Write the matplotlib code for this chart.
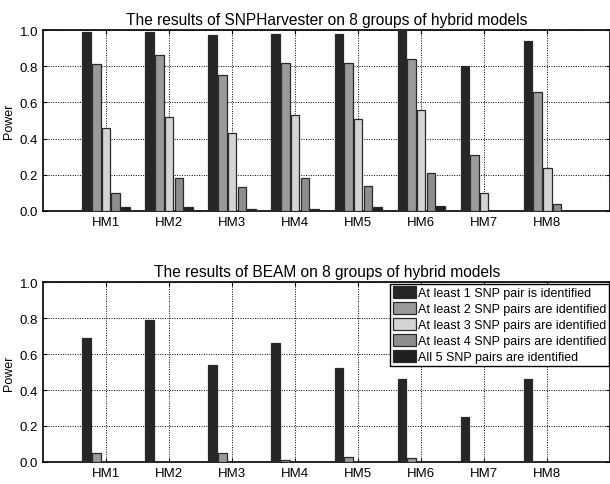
import numpy as np
import matplotlib
matplotlib.use("Agg")
import matplotlib.pyplot as plt

plt.rcParams.update({
    "font.family": ["Liberation Sans", "DejaVu Sans"],
    "font.size": 9,
})

# ── Data ─────────────────────────────────────────────────────────
groups = ["HM1", "HM2", "HM3", "HM4", "HM5", "HM6", "HM7", "HM8"]
series_labels = [
    "At least 1 SNP pair is identified",
    "At least 2 SNP pairs are identified",
    "At least 3 SNP pairs are identified",
    "At least 4 SNP pairs are identified",
    "All 5 SNP pairs are identified",
]

harv_1 = [0.99, 0.99, 0.97, 0.98, 0.98, 1.00, 0.80, 0.94]
harv_2 = [0.81, 0.86, 0.75, 0.82, 0.82, 0.84, 0.31, 0.66]
harv_3 = [0.46, 0.52, 0.43, 0.53, 0.51, 0.56, 0.10, 0.24]
harv_4 = [0.10, 0.18, 0.13, 0.18, 0.14, 0.21, 0.00, 0.04]
harv_5 = [0.02, 0.02, 0.01, 0.01, 0.02, 0.03, 0.00, 0.00]

beam_1 = [0.69, 0.79, 0.54, 0.66, 0.52, 0.46, 0.25, 0.46]
beam_2 = [0.05, 0.00, 0.05, 0.01, 0.03, 0.02, 0.00, 0.00]
beam_3 = [0.00, 0.00, 0.00, 0.00, 0.00, 0.00, 0.00, 0.00]
beam_4 = [0.00, 0.00, 0.00, 0.00, 0.00, 0.00, 0.00, 0.00]
beam_5 = [0.00, 0.00, 0.00, 0.00, 0.00, 0.00, 0.00, 0.00]

colors = ["#262626", "#9a9a9a", "#d4d4d4", "#8e8e8e", "#1f1f1f"]


def grouped(ax, data, title):
    x = np.arange(1, len(groups) + 1)
    step = 0.154
    width = 0.135
    for i, vals in enumerate(data):
        ax.bar(x + (i - 2) * step, vals, width, color=colors[i],
               edgecolor="#2a2a2a", linewidth=0.9, label=series_labels[i],
               zorder=3)
    ax.set_xlim(0, 9)
    ax.set_ylim(0, 1)
    ax.set_xticks(x)
    ax.set_xticklabels(groups)
    ax.set_yticks(np.arange(0, 1.01, 0.2))
    ax.set_yticklabels([f"{v:.1f}" for v in np.arange(0, 1.01, 0.2)])
    ax.grid(True, linestyle=(0, (1, 1.5)), color="black", linewidth=0.7)
    ax.set_axisbelow(True)
    ax.tick_params(direction="in", top=True, right=True, length=3,
                   labelsize=9.5)
    for s in ax.spines.values():
        s.set_linewidth(1.2)
    ax.set_ylabel("Power", fontsize=9, labelpad=3)
    ax.set_title(title, fontsize=11.2, pad=4)


fig = plt.figure(figsize=(6.1, 4.85), dpi=100)
ax1 = fig.add_axes([0.0705, 0.563, 0.93, 0.373])
ax2 = fig.add_axes([0.0705, 0.0454, 0.93, 0.371])

grouped(ax1, [harv_1, harv_2, harv_3, harv_4, harv_5],
        "The results of SNPHarvester on 8 groups of hybrid models")
grouped(ax2, [beam_1, beam_2, beam_3, beam_4, beam_5],
        "The results of BEAM on 8 groups of hybrid models")

leg = ax2.legend(loc="upper right", bbox_to_anchor=(0.997, 0.99),
                 fontsize=9, frameon=True, fancybox=False, borderpad=0.2,
                 labelspacing=0.25, handlelength=1.9, handleheight=1.0,
                 handletextpad=0.1, borderaxespad=0)
leg.get_frame().set_edgecolor("black")
leg.get_frame().set_linewidth(1.0)
leg.get_frame().set_alpha(1)

fig.savefig("out.png", dpi=100)
